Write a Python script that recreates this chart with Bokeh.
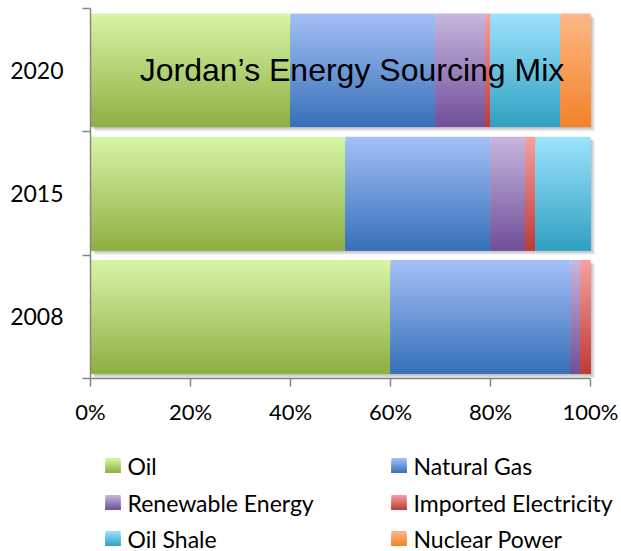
from bokeh.plotting import figure
from bokeh.models import Range1d, FixedTicker, Label
from bokeh.layouts import column
from bokeh.embed import file_html
from bokeh.resources import INLINE

# Share of each energy source per year (percent)
years = ["2008", "2015", "2020"]
sources = ["Oil", "Natural Gas", "Renewable Energy", "Imported Electricity",
           "Oil Shale", "Nuclear Power"]
oil = [60, 51, 40]
natural_gas = [36, 29, 29]
renewable_energy = [2, 7, 10]
imported_electricity = [2, 2, 1]
oil_shale = [0, 11, 14]
nuclear_power = [0, 0, 6]
x_ticks = [0, 20, 40, 60, 80, 100]

series = [oil, natural_gas, renewable_energy, imported_electricity, oil_shale, nuclear_power]

# light (top) and dark (bottom) ends of each source's vertical gradient
top_colors = ["#d7f5a6", "#a4c0f6", "#c8b6e0", "#f7a19f", "#9de3fd", "#ffb786"]
bottom_colors = ["#8cb042", "#3670b8", "#704f98", "#be3a36", "#30a0c1", "#f28228"]

AXIS_GREY = "#868686"
LABEL_FONT = "Lato"
STRIPS = 30
BAR_H = 0.92
W = 621
FRAME_LEFT = 90
PX_PER_PCT = 5.0          # 0 %..100 % spans 500 px
X_END = (W - FRAME_LEFT) / PX_PER_PCT


def hex_rgb(h):
    h = h.lstrip("#")
    return tuple(int(h[i:i + 2], 16) for i in (0, 2, 4))


def blend(c1, c2, t):
    a, b = hex_rgb(c1), hex_rgb(c2)
    return "#%02x%02x%02x" % tuple(round(a[i] + (b[i] - a[i]) * t) for i in range(3))


p = figure(width=W, height=440, output_backend="svg", toolbar_location=None,
           x_range=Range1d(0, X_END), y_range=Range1d(0, 3),
           min_border_left=FRAME_LEFT, min_border_right=0,
           min_border_top=8, min_border_bottom=62)
p.outline_line_color = None
p.xgrid.visible = False
p.ygrid.visible = False
p.background_fill_color = "white"
p.border_fill_color = "white"

# soft drop shadow behind each stacked bar
for k in range(1, 5):
    lefts, rights, tops, bottoms = [], [], [], []
    for i in range(len(years)):
        total = sum(s[i] for s in series)
        c = i + 0.5
        lefts.append(0 + k * 0.22)
        rights.append(total + k * 0.22)
        tops.append(c + BAR_H / 2 - k * 0.009)
        bottoms.append(c - BAR_H / 2 - k * 0.009)
    p.quad(left=lefts, right=rights, top=tops, bottom=bottoms,
           fill_color="black", fill_alpha=0.07, line_color=None)

# stacked bars; each segment is painted top-down as overlapping bands, each
# band reaching the bar bottom, so the next one covers it and forms the gradient
for si, s in enumerate(series):
    lefts, rights, tops, bottoms, colors = [], [], [], [], []
    for i in range(len(years)):
        if s[i] <= 0:
            continue
        start = sum(series[k][i] for k in range(si))
        end = start + s[i]
        c = i + 0.5
        for j in range(STRIPS):
            t = (j + 0.5) / STRIPS
            lefts.append(start)
            rights.append(end)
            tops.append(c + BAR_H / 2 - j * BAR_H / STRIPS)
            bottoms.append(c - BAR_H / 2)
            colors.append(blend(top_colors[si], bottom_colors[si], t))
    p.quad(left=lefts, right=rights, top=tops, bottom=bottoms,
           fill_color=colors, line_color=None)

# category axis: labels at band centres, tick marks at band edges
p.yaxis.ticker = FixedTicker(ticks=[i + 0.5 for i in range(len(years))],
                             minor_ticks=list(range(len(years) + 1)))
p.yaxis.major_label_overrides = {i + 0.5: y for i, y in enumerate(years)}
p.yaxis.major_tick_line_color = None
p.yaxis.major_tick_out = 0
p.yaxis.major_tick_in = 0
p.yaxis.minor_tick_line_color = AXIS_GREY
p.yaxis.minor_tick_line_width = 1.5
p.yaxis.minor_tick_out = 8
p.yaxis.minor_tick_in = 0
p.yaxis.major_label_standoff = 19
p.yaxis.axis_line_color = AXIS_GREY
p.yaxis.axis_line_width = 1.5
p.yaxis.major_label_text_font = LABEL_FONT
p.yaxis.major_label_text_font_size = "23px"
p.yaxis.major_label_text_color = "black"

p.xaxis.ticker = FixedTicker(ticks=x_ticks, minor_ticks=[])
p.xaxis.bounds = (0, 100)
p.xaxis.major_label_overrides = {t: f"{t}%" for t in x_ticks}
p.xaxis.major_tick_line_color = AXIS_GREY
p.xaxis.major_tick_line_width = 1.5
p.xaxis.major_tick_out = 8
p.xaxis.major_tick_in = 0
p.xaxis.major_label_standoff = 11
p.xaxis.axis_line_color = AXIS_GREY
p.xaxis.axis_line_width = 1.5
p.xaxis.major_label_text_font = LABEL_FONT
p.xaxis.major_label_text_font_size = "22px"
p.xaxis.major_label_text_color = "black"

p.add_layout(Label(x=52.3, y=2.5, text="Jordan\u2019s Energy Sourcing Mix",
                   text_align="center", text_baseline="alphabetic",
                   text_font="Liberation Sans", text_font_size="32px",
                   text_color="black"))

# legend panel below the chart; its frame lines up with the chart frame,
# so the x range is given in window pixels across that frame
lg = figure(width=W, height=111, output_backend="svg", toolbar_location=None,
            x_range=Range1d(FRAME_LEFT, W), y_range=Range1d(111, 0),
            x_axis_location=None, y_axis_location=None,
            min_border_left=FRAME_LEFT, min_border_right=0,
            min_border_top=0, min_border_bottom=0)
lg.grid.visible = False
lg.outline_line_color = None
lg.background_fill_color = "white"
lg.border_fill_color = "white"

col_x = [105, 391]
row_y = [25, 62, 98]
SW = 15
SW_STRIPS = 10
sw_l, sw_r, sw_t, sw_b, sw_c = [], [], [], [], []
for idx, name in enumerate(sources):
    cx = col_x[idx % 2]
    cy = row_y[idx // 2]
    for j in range(SW_STRIPS):
        t = (j + 0.5) / SW_STRIPS
        sw_l.append(cx)
        sw_r.append(cx + SW)
        sw_t.append(cy - SW / 2 + j * SW / SW_STRIPS)
        sw_b.append(cy + SW / 2)
        sw_c.append(blend(top_colors[idx], bottom_colors[idx], t))
    lg.add_layout(Label(x=cx + 22, y=cy, text=name, text_font=LABEL_FONT,
                        text_font_size="23px", text_baseline="middle",
                        text_align="left", text_color="black"))
lg.quad(left=sw_l, right=sw_r, top=sw_t, bottom=sw_b, fill_color=sw_c, line_color=None)

layout = column(p, lg, spacing=0)
open("out.html", "w").write(file_html(layout, INLINE))
